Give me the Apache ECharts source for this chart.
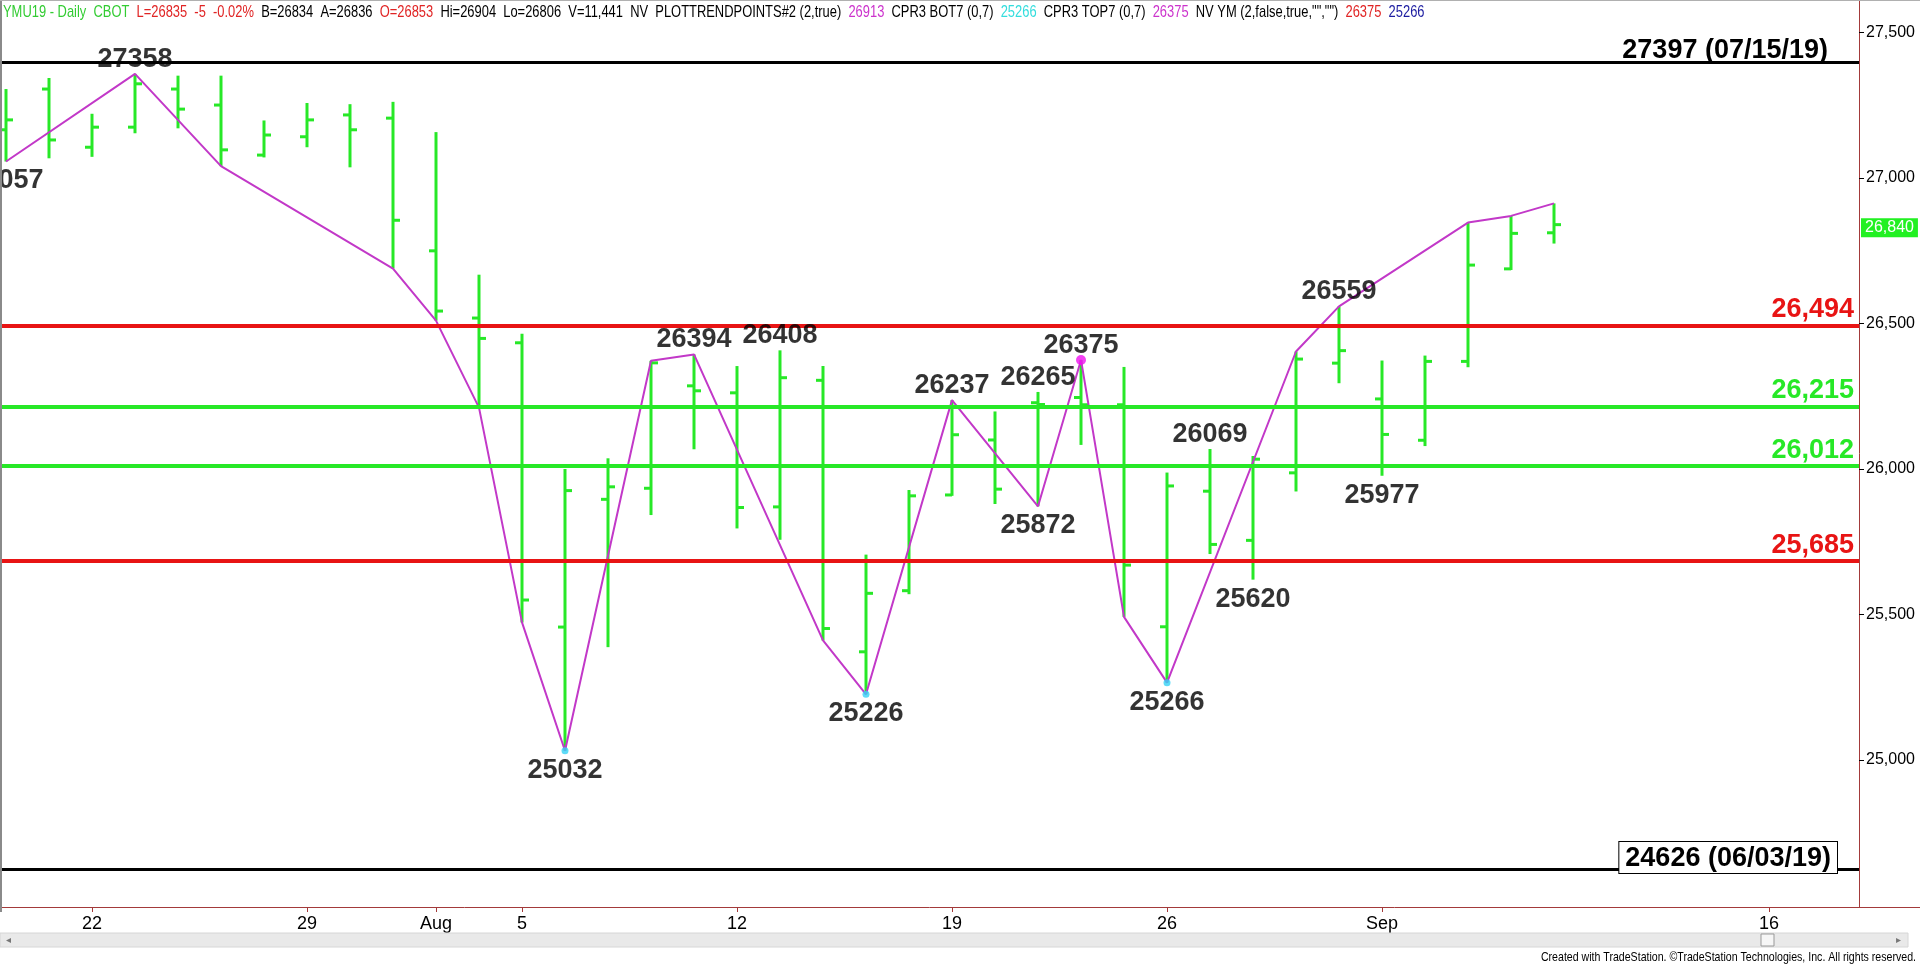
<!DOCTYPE html>
<html><head><meta charset="utf-8">
<script src="https://cdn.jsdelivr.net/npm/echarts@6/dist/echarts.min.js"></script>
<style>html,body{margin:0;padding:0;background:#fff;overflow:hidden}#c{width:1920px;height:964px;}</style>
</head><body><div id="c"></div>
<script>
// ---------------- data ----------------
const dates = ['07/18','07/19','07/22','07/23','07/24','07/25','07/26','07/29','07/30','07/31',
  '08/01','08/02','08/05','08/06','08/07','08/08','08/09','08/12','08/13','08/14','08/15','08/16',
  '08/19','08/20','08/21','08/22','08/23','08/26','08/27','08/28','08/29','08/30',
  '09/03','09/04','09/05','09/06','09/09','09/10','09/11','09/12','09/13','09/16','09/17','09/18','09/19'];
const barDates = dates.slice(0, 37);
const opens  = [27166,27306,27106,27175,27306,27251,27079,27142,27217,27206,26750,26519,26434,25457,25896,25934,26286,26262,25870,26305,25372,25582,25911,26100,26228,26246,26221,25458,25924,25755,25987,26364,26241,26099,26370,26688,26812];
const highs  = [27306,27344,27221,27358,27352,27352,27198,27258,27254,27262,27158,26668,26465,26000,26037,26372,26394,26354,26408,26354,25706,25928,26237,26198,26265,26375,26351,25988,26069,26045,26404,26559,26373,26390,26847,26870,26913];
const lows   = [27057,27068,27073,27154,27171,27041,27071,27106,27037,26689,26510,26211,25473,25032,25388,25842,26068,25796,25757,25411,25226,25570,25908,25880,25872,26083,25492,25266,25708,25620,25923,26295,25977,26079,26350,26684,26775];
const closes = [27200,27131,27175,27324,27237,27097,27148,27200,27166,26855,26543,26449,25550,25926,25939,26365,26269,25868,26314,25452,25573,25908,26118,25931,26222,26221,25670,25942,25741,26034,26378,26407,26119,26370,26701,26810,26840];

const trendDates  = ['07/18','07/23','07/25','07/31','08/01','08/02','08/05','08/06','08/08','08/09','08/14','08/15','08/19','08/21','08/22','08/23','08/26','08/29','08/30','09/05','09/06','09/09'];
const trendValues = [27057,27358,27041,26689,26510,26211,25473,25032,26372,26394,25411,25226,26237,25872,26375,25492,25266,26404,26559,26847,26870,26913];

const highLabelDates  = ['07/23','08/09','08/13','08/19','08/21','08/22','08/27','08/30'];
const highLabelValues = [27358,26394,26408,26237,26265,26375,26069,26559];
const lowLabelDates   = ['07/18','08/06','08/15','08/21','08/26','08/28','09/03'];
const lowLabelValues  = [27057,25032,25226,25872,25266,25620,25977];

const cyanDotDates = ['08/06','08/15','08/26'];
const cyanDotValues = [25032,25226,25266];
const magentaDotDates = ['08/22'];
const magentaDotValues = [26375];

const levelValues = [27397, 26494, 26215, 26012, 25685, 24626];
const levelTexts  = ['27397 (07/15/19)','26,494','26,215','26,012','25,685','24626 (06/03/19)'];

const tickDates  = ['07/22','07/29','08/01','08/05','08/12','08/19','08/26','09/03','09/16'];
const tickLabels = ['22','29','Aug','5','12','19','26','Sep','16'];
const yTickValues = [25000,25500,26000,26500,27000,27500];
const lastPrice = 26840;

const headerParts = [
  ['g','YMU19 - Daily  CBOT  '],['r','L=26835  -5  -0.02%  '],['k','B=26834  A=26836  '],['r','O=26853  '],
  ['k','Hi=26904  Lo=26806  V=11,441  NV  PLOTTRENDPOINTS#2 (2,true)  '],['m','26913  '],['k','CPR3 BOT7 (0,7)  '],
  ['c','25266  '],['k','CPR3 TOP7 (0,7)  '],['m','26375  '],['k','NV YM (2,false,true,"","")  '],['r','26375  '],['b','25266']
];
const footerText = 'Created with TradeStation. \u00A9TradeStation Technologies, Inc. All rights reserved.';

// ---------------- chart ----------------
const idx = d => dates.indexOf(d);
const GREEN = '#27e827', RED = '#e81414', AXIS = '#a33a3a', MAG = '#c238c8';
const SANS = "'Liberation Sans',Arial,sans-serif";
const levelStyles = [
  {color:'#000', w:3, distX:31, distY:-1},
  {color:RED, w:4, distX:5, distY:2},
  {color:GREEN, w:4, distX:5, distY:2},
  {color:GREEN, w:4, distX:5, distY:2},
  {color:RED, w:4, distX:5, distY:2},
  {color:'#000', w:3, distX:22, distY:-4, box:true}
];

const ohlc = barDates.map((d,i)=>[idx(d), opens[i], highs[i], lows[i], closes[i]]);
const fmt = v => String(v).replace(/\B(?=(\d{3})+(?!\d))/g, ',');
const tickIdx = tickDates.map(idx);

const chart = echarts.init(document.getElementById('c'), null, {renderer:'canvas'});
const option = {
  animation:false,
  backgroundColor:'#fff',
  grid:{left:0, right:61, top:0, bottom:57, containLabel:false},
  xAxis:{
    type:'value', min:-0.1395, max:43.093,
    axisLine:{show:true, onZero:false, lineStyle:{color:AXIS, width:1}},
    axisTick:{show:true, length:5, lineStyle:{color:AXIS}, customValues: tickIdx},
    axisLabel:{customValues: tickIdx, formatter: v => tickLabels[tickIdx.indexOf(Math.round(v))] || '',
      color:'#000', fontFamily:SANS, fontSize:18, margin:8},
    splitLine:{show:false}
  },
  yAxis:{
    type:'value', position:'right', min:24495, max:27612,
    axisLine:{show:true, onZero:false, lineStyle:{color:AXIS, width:1}},
    axisTick:{show:true, length:5, lineStyle:{color:'#000'}, customValues:yTickValues},
    axisLabel:{customValues:yTickValues, formatter:v=>fmt(v), color:'#000', fontFamily:SANS, fontSize:16, margin:7},
    splitLine:{show:false}
  },
  series:[
    {
      type:'custom', name:'bars', z:2,
      data: ohlc,
      encode:{x:0, y:[1,2,3,4]},
      renderItem:function(params, api){
        const x = api.value(0);
        const o = api.coord([x, api.value(1)]);
        const h = api.coord([x, api.value(2)]);
        const l = api.coord([x, api.value(3)]);
        const c = api.coord([x, api.value(4)]);
        const st = {stroke:GREEN, lineWidth:3};
        const t = 7;
        return {type:'group', children:[
          {type:'line', shape:{x1:h[0], y1:h[1], x2:l[0], y2:l[1]}, style:st},
          {type:'line', shape:{x1:o[0]-t, y1:o[1], x2:o[0], y2:o[1]}, style:st},
          {type:'line', shape:{x1:c[0], y1:c[1], x2:c[0]+t, y2:c[1]}, style:st}
        ]};
      }
    },
    {
      type:'line', name:'levels', data:[], z:3,
      markLine:{
        symbol:'none', silent:true, animation:false,
        data: levelValues.map((v,i)=>{
          const s = levelStyles[i];
          return {yAxis:v, lineStyle:{color:s.color, width:s.w, type:'solid'},
            label:{show:true, position:'insideEndTop', formatter:levelTexts[i], distance:[s.distX, s.distY],
              color:s.color, fontFamily:SANS, fontWeight:'bold', fontSize:27,
              backgroundColor: s.box ? '#fff' : 'transparent',
              borderColor: s.box ? '#000' : 'transparent', borderWidth: s.box ? 1 : 0,
              padding: s.box ? [3,6,1,6] : 0}};
        }).concat([{yAxis:lastPrice, lineStyle:{color:'rgba(0,0,0,0)', width:0},
          label:{show:true, position:'end', distance:2, offset:[0,3], formatter:fmt(lastPrice), color:'#fff',
            backgroundColor:'#22f022', fontFamily:SANS, fontSize:16, padding:[2,4,1,4]}}])
      }
    },
    {
      type:'line', name:'trend', z:4, symbol:'none',
      data: trendDates.map((d,i)=>[idx(d), trendValues[i]]),
      lineStyle:{color:MAG, width:2}
    },
    {
      type:'scatter', name:'lows', z:5, symbolSize:7, itemStyle:{color:'#36d2f5'},
      data: cyanDotDates.map((d,i)=>[idx(d), cyanDotValues[i]])
    },
    {
      type:'scatter', name:'hi', z:5, symbolSize:10, itemStyle:{color:'#f012f0'},
      data: magentaDotDates.map((d,i)=>[idx(d), magentaDotValues[i]])
    },
    {
      type:'scatter', name:'highLabels', z:6, symbolSize:0, clip:false,
      data: highLabelDates.map((d,i)=>[idx(d), highLabelValues[i]]),
      label:{show:true, position:'top', distance:1, formatter:p=>String(p.value[1]),
        color:'#000', fontFamily:SANS, fontWeight:'bold', fontSize:27}
    },
    {
      type:'scatter', name:'lowLabels', z:6, symbolSize:0, clip:false,
      data: lowLabelDates.map((d,i)=>[idx(d), lowLabelValues[i]]),
      label:{show:true, position:'bottom', distance:6, formatter:p=>String(p.value[1]),
        color:'#000', fontFamily:SANS, fontWeight:'bold', fontSize:27}
    }
  ],
  graphic:[
    {type:'line', shape:{x1:1,y1:0,x2:1,y2:912}, style:{stroke:'#8a8a8a', lineWidth:2}, z:10},
    {type:'line', shape:{x1:0,y1:0.5,x2:1920,y2:0.5}, style:{stroke:'#b0b0b0', lineWidth:1}, z:10},
    {type:'line', shape:{x1:1859,y1:907.5,x2:1920,y2:907.5}, style:{stroke:AXIS, lineWidth:1}, z:10},
    {type:'rect', shape:{x:0,y:933,width:1908,height:14}, style:{fill:'#e9e9e9', stroke:'#d6d6d6'}, z:10},
    {type:'text', x:6, y:940, style:{text:'\u25C2', fontSize:10, fill:'#777', verticalAlign:'middle'}, z:11},
    {type:'text', x:1896, y:940, style:{text:'\u25B8', fontSize:10, fill:'#777', verticalAlign:'middle'}, z:11},
    {type:'rect', shape:{x:1761,y:934,width:13,height:12}, style:{fill:'#f6f6f6', stroke:'#999'}, z:11},
    {type:'text', x:1916, y:957, scaleX:0.815, z:11,
      style:{text:footerText, fontFamily:SANS, fontSize:13, fill:'#000', align:'right', verticalAlign:'middle'}},
    {type:'text', x:3, y:12, scaleX:0.76, z:11, style:{
      text: headerParts.map(p=>'{'+p[0]+'|'+p[1]+'}').join(''),
      fontFamily:SANS, fontSize:17, verticalAlign:'middle',
      rich:{
        g:{fill:'#33cc33', fontFamily:SANS, fontSize:17},
        r:{fill:'#e02424', fontFamily:SANS, fontSize:17},
        k:{fill:'#000', fontFamily:SANS, fontSize:17},
        m:{fill:'#cc33cc', fontFamily:SANS, fontSize:17},
        c:{fill:'#33dddd', fontFamily:SANS, fontSize:17},
        b:{fill:'#1c1ca0', fontFamily:SANS, fontSize:17}
      }}}
  ]
};
chart.setOption(option);
</script></body></html>
